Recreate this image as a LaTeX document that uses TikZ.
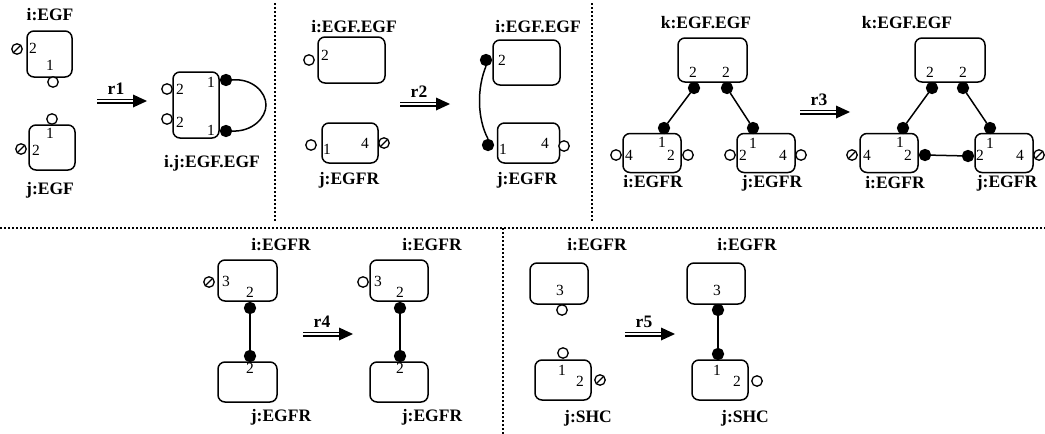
\documentclass[tikz,border=0pt]{standalone}
\usepackage{fontspec}
\setmainfont{Liberation Serif}
\usepackage{tikz}

\begin{document}
\begin{tikzpicture}[x=1pt,y=-1pt,
        box/.style={draw,rounded corners=7pt,line width=1.5pt,inner sep=0pt},
        lbl/.style={font=\fontsize{17.5}{17.5}\selectfont\bfseries,inner sep=0pt},
        num/.style={font=\fontsize{15.5}{15.5}\selectfont,inner sep=0pt},
        free/.style={circle,draw,fill=white,line width=1.3pt,minimum size=10.5pt,inner sep=0pt},
        bnd/.style={free,fill=black,minimum size=11pt},
        blk/.style={free,path picture={\draw[line width=1.3pt] (path picture bounding box.south west) -- (path picture bounding box.north east);}},
        link/.style={line width=1.5pt},
        sep/.style={line width=1.4pt,dash pattern=on 1.5pt off 2.5pt}]
        \useasboundingbox (0,0) rectangle (1045,434);
        % separators
        \draw[sep] (275,3) -- (275,222);
        \draw[sep] (592,3) -- (592,222);
        \draw[sep] (0,228) -- (1045,228);
        \draw[sep] (503,228) -- (503,434);
        % rule arrows
        \foreach \n/\x/\y in {r1/97/101,r2/400/104,r3/800/112,r4/303/334,r5/625/334}
        {
                \draw[line width=1.3pt,double distance=2.4pt] (\x,\y) -- ++(37,0);
                \fill (\x+36,\y-6.5) -- (\x+50,\y) -- (\x+36,\y+6.5) -- cycle;
                \node[lbl] (\n) at (\x+19,\y-12) {\n};
        }

        % r1
        \node[lbl] (ai) at (50,15) {i:EGF};
        \node[box,minimum width=45pt,minimum height=46pt] (a1) at (49.5,54) {};
        \node[blk] (a1s2) at (17,49) {};
        \node[num] at (33,48) {2};
        \node[num] at (50,65) {1};
        \node[free] (a1s1) at (53,82) {};
        \node[box,minimum width=46pt,minimum height=45pt] (a2) at (52,147.5) {};
        \node[free] (a2s1) at (52,119) {};
        \node[num] at (50,133) {1};
        \node[num] at (36,150) {2};
        \node[blk] (a2s2) at (21,149) {};
        \node[lbl] (aj) at (50,190) {j:EGF};

        \node[box,minimum width=46pt,minimum height=66pt] (a3) at (196,105) {};
        \node[free] (a3s2) at (167,89) {};
        \node[free] (a3s4) at (167,119) {};
        \node[num] at (180,89) {2};
        \node[num] at (180,122) {2};
        \node[num] at (211,82) {1};
        \node[num] at (211,130) {1};
        \node[bnd] (a3s1) at (226,80) {};
        \node[bnd] (a3s3) at (226,131) {};
        \draw[link] (a3s1.east) .. controls (252,78) and (266,92) .. (266,105)
                .. controls (266,118) and (252,132) .. (a3s3.east);
        \node[lbl] (aij) at (212,163) {i.j:EGF.EGF};

        % r2
        \node[lbl] (bi) at (354,27) {i:EGF.EGF};
        \node[box,minimum width=67pt,minimum height=46pt] (b1) at (351.5,60) {};
        \node[free] (b1s2) at (309,60) {};
        \node[num] at (325,55) {2};
        \node[box,minimum width=56pt,minimum height=40pt] (b2) at (350,143) {};
        \node[free] (b2s1) at (311,145) {};
        \node[num] at (327,149) {1};
        \node[num] at (365,143) {4};
        \node[blk] (b2s4) at (384,143) {};
        \node[lbl] (bj) at (349,180) {j:EGFR};

        \node[lbl] (bri) at (538,27) {i:EGF.EGF};
        \node[box,minimum width=67pt,minimum height=45pt] (b3) at (526.5,62.5) {};
        \node[bnd] (b3s2) at (486,60) {};
        \node[num] at (502,60) {2};
        \node[box,minimum width=62pt,minimum height=40pt] (b4) at (528.5,143) {};
        \node[bnd] (b4s1) at (488,145) {};
        \node[num] at (503,149) {1};
        \node[num] at (545,143) {4};
        \node[free] (b4s4) at (564,146) {};
        \draw[link] (b3s2.south) .. controls (477,88) and (477,118) .. (b4s1.north);
        \node[lbl] (brj) at (527,180) {j:EGFR};

        % r3
        \node[lbl] (ck) at (706,23) {k:EGF.EGF};
        \node[box,minimum width=69pt,minimum height=44pt] (c1) at (712.5,60) {};
        \node[num] at (693,72) {2};
        \node[num] at (726,72) {2};
        \node[bnd] (c1s2) at (694,88) {};
        \node[bnd] (c1s2b) at (727,88) {};
        \node[box,minimum width=58pt,minimum height=39pt] (c2) at (652,153) {};
        \node[bnd] (c2s1) at (664,128) {};
        \node[num] at (662,142) {1};
        \node[num] at (629,155) {4};
        \node[num] at (671,155) {2};
        \node[free] (c2s4) at (616,155) {};
        \node[free] (c2s2) at (688,155) {};
        \node[box,minimum width=58pt,minimum height=39pt] (c3) at (766,153) {};
        \node[bnd] (c3s1) at (753,128) {};
        \node[num] at (753,143) {1};
        \node[num] at (743,155) {2};
        \node[num] at (783,155) {4};
        \node[free] (c3s2) at (730,155) {};
        \node[free] (c3s4) at (801,155) {};
        \draw[link] (c1s2) -- (c2s1);
        \draw[link] (c1s2b) -- (c3s1);
        \node[lbl] (ci) at (653,182) {i:EGFR};
        \node[lbl] (cj) at (772,183) {j:EGFR};

        \node[lbl] (crk) at (907,23) {k:EGF.EGF};
        \node[box,minimum width=70pt,minimum height=44pt] (c4) at (950,60) {};
        \node[num] at (930,72) {2};
        \node[num] at (963,72) {2};
        \node[bnd] (c4s2) at (932,88) {};
        \node[bnd] (c4s2b) at (963,88) {};
        \node[box,minimum width=58pt,minimum height=39pt] (c5) at (889,153) {};
        \node[bnd] (c5s1) at (903,128) {};
        \node[num] at (900,142) {1};
        \node[num] at (867,155) {4};
        \node[num] at (908,155) {2};
        \node[blk] (c5s4) at (852,155) {};
        \node[bnd] (c5s2) at (925,155) {};
        \node[box,minimum width=58pt,minimum height=39pt] (c6) at (1004,153) {};
        \node[bnd] (c6s1) at (990,128) {};
        \node[bnd] (c6s2) at (968,156) {};
        \node[num] at (990,143) {1};
        \node[num] at (980,155) {2};
        \node[num] at (1020,155) {4};
        \node[blk] (c6s4) at (1039,155) {};
        \draw[link] (c4s2) -- (c5s1);
        \draw[link] (c4s2b) -- (c6s1);
        \draw[link] (c5s2) -- (c6s2);
        \node[lbl] (cri) at (895,183) {i:EGFR};
        \node[lbl] (crj) at (1007,183) {j:EGFR};

        % r4
        \node[lbl] (di) at (281,245) {i:EGFR};
        \node[box,minimum width=59pt,minimum height=41pt] (d1) at (247.5,280.5) {};
        \node[blk] (d1s3) at (209,282) {};
        \node[num] at (226,281) {3};
        \node[num] at (250,292) {2};
        \node[bnd] (d1s2) at (250,308) {};
        \node[box,minimum width=59pt,minimum height=40pt] (d2) at (247.5,382) {};
        \node[bnd] (d2s2) at (250,356) {};
        \node[num] at (250,368) {2};
        \draw[link] (d1s2) -- (d2s2);
        \node[lbl] (dj) at (281,417) {j:EGFR};

        \node[lbl] (dri) at (432,245) {i:EGFR};
        \node[box,minimum width=58pt,minimum height=41pt] (d3) at (399,280.5) {};
        \node[free] (d3s3) at (363,282) {};
        \node[num] at (378,281) {3};
        \node[num] at (400,292) {2};
        \node[bnd] (d3s2) at (400,308) {};
        \node[box,minimum width=58pt,minimum height=40pt] (d4) at (399,382) {};
        \node[bnd] (d4s2) at (400,356) {};
        \node[num] at (400,368) {2};
        \draw[link] (d3s2) -- (d4s2);
        \node[lbl] (drj) at (432,417) {j:EGFR};

        % r5
        \node[lbl] (ei) at (597,245) {i:EGFR};
        \node[box,minimum width=58pt,minimum height=41pt] (e1) at (559,283.5) {};
        \node[num] at (560,290) {3};
        \node[free] (e1s3) at (562,310) {};
        \node[box,minimum width=56pt,minimum height=40pt] (e2) at (563,380) {};
        \node[free] (e2s1) at (563,353) {};
        \node[num] at (562,370) {1};
        \node[num] at (580,381) {2};
        \node[blk] (e2s2) at (600,380) {};
        \node[lbl] (ej) at (588,418) {j:SHC};

        \node[lbl] (eri) at (747,245) {i:EGFR};
        \node[box,minimum width=58pt,minimum height=41pt] (e3) at (716,283.5) {};
        \node[num] at (717,290) {3};
        \node[bnd] (e3s3) at (718,310) {};
        \node[box,minimum width=56pt,minimum height=40pt] (e4) at (720,380) {};
        \node[bnd] (e4s1) at (718,354) {};
        \node[num] at (717,370) {1};
        \node[num] at (737,381) {2};
        \node[free] (e4s2) at (757,381) {};
        \draw[link] (e3s3) -- (e4s1);
        \node[lbl] (erj) at (745,418) {j:SHC};
\end{tikzpicture}
\end{document}
